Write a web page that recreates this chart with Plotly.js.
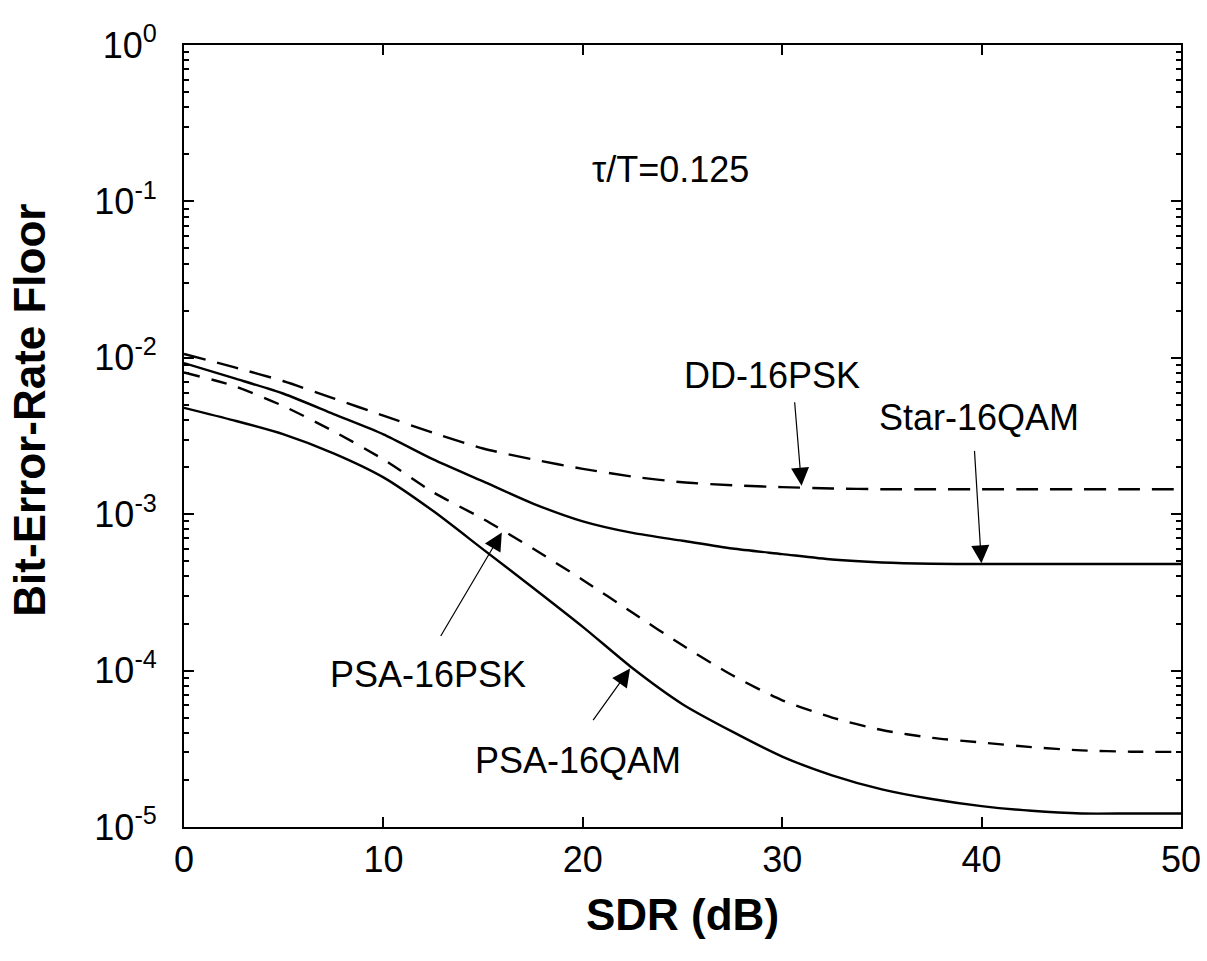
<!DOCTYPE html>
<html>
<head>
<meta charset="utf-8">
<script src="https://cdn.plot.ly/plotly-3.0.1.min.js"></script>
<style>html,body{margin:0;padding:0;background:#fff;}#chart{width:1207px;height:961px;}</style>
</head>
<body>
<div id="chart"></div>
<script>
// SDR (dB) sample points
const sdr = [0, 2.5, 5, 7.5, 10, 12.5, 15, 17.5, 20, 22.5, 25, 27.5, 30, 32.5, 35, 37.5, 40, 42.5, 45, 47.5, 50];

// Bit-error-rate floor values
const ddPsk = [1.057e-2, 8.71e-3, 7.08e-3, 5.50e-3, 4.27e-3, 3.31e-3, 2.63e-3, 2.24e-3, 1.95e-3, 1.74e-3, 1.60e-3, 1.53e-3, 1.49e-3, 1.46e-3, 1.445e-3, 1.445e-3, 1.445e-3, 1.445e-3, 1.445e-3, 1.445e-3, 1.445e-3];
const starQam = [9.25e-3, 7.41e-3, 5.89e-3, 4.37e-3, 3.24e-3, 2.24e-3, 1.62e-3, 1.17e-3, 9.0e-4, 7.59e-4, 6.76e-4, 6.03e-4, 5.56e-4, 5.13e-4, 4.91e-4, 4.82e-4, 4.80e-4, 4.80e-4, 4.80e-4, 4.80e-4, 4.80e-4];
const psaPsk = [8.05e-3, 6.61e-3, 4.90e-3, 3.39e-3, 2.24e-3, 1.38e-3, 9.33e-4, 6.03e-4, 3.80e-4, 2.34e-4, 1.45e-4, 9.33e-5, 6.46e-5, 5.01e-5, 4.17e-5, 3.72e-5, 3.47e-5, 3.24e-5, 3.09e-5, 3.03e-5, 3.02e-5];
const psaQam = [4.79e-3, 3.98e-3, 3.24e-3, 2.45e-3, 1.72e-3, 1.047e-3, 5.96e-4, 3.39e-4, 1.905e-4, 1.035e-4, 6.10e-5, 4.07e-5, 2.82e-5, 2.14e-5, 1.74e-5, 1.51e-5, 1.36e-5, 1.27e-5, 1.22e-5, 1.22e-5, 1.22e-5];

// Tick labels
const xTicks = [0, 10, 20, 30, 40, 50];
const yTickVals = [1e-5, 1e-4, 1e-3, 1e-2, 1e-1, 1];
const yTickText = ['10<sup>-5</sup>', '10<sup>-4</sup>', '10<sup>-3</sup>', '10<sup>-2</sup>', '10<sup>-1</sup>', '10<sup>0</sup>'];

// Curve labels and arrows
const labelText = ['DD-16PSK', 'Star-16QAM', 'PSA-16PSK', 'PSA-16QAM'];
const labelX = [29.5, 39.85, 12.25, 19.75];
const labelY = [7.7e-3, 4.15e-3, 9.4e-5, 2.65e-5];
const arrowX = [30.97, 39.99, 15.94, 22.37];
const arrowY = [1.52e-3, 4.85e-4, 7.64e-4, 1.03e-4];
const arrowAx = [-7, -7, -62, -38];
const arrowAy = [-85, -114, 105, 53];

const paramText = '\u03c4/T=0.125';
const paramX = 24.42, paramY = 0.159;

const xTitle = 'SDR (dB)';
const yTitle = 'Bit-Error-Rate Floor';

const FONT = 'Liberation Sans, Arial, Helvetica, sans-serif';

const minorVals = [];
for (let d = -5; d < 0; d++) for (let m = 2; m <= 9; m++) minorVals.push(m * Math.pow(10, d));

const lineStyle = (dash) => ({color: '#000', width: 2.4, dash: dash, shape: 'spline', smoothing: 0.7});
const traces = [
  {x: sdr, y: ddPsk, mode: 'lines', line: lineStyle('22px,12px'), name: 'DD-16PSK'},
  {x: sdr, y: starQam, mode: 'lines', line: lineStyle('solid'), name: 'Star-16QAM'},
  {x: sdr, y: psaPsk, mode: 'lines', line: lineStyle('16px,12px'), name: 'PSA-16PSK'},
  {x: sdr, y: psaQam, mode: 'lines', line: lineStyle('solid'), name: 'PSA-16QAM'}
];

const annotations = [];
annotations.push({x: paramX, y: Math.log10(paramY), xref: 'x', yref: 'y', text: paramText, showarrow: false,
  font: {family: FONT, size: 36, color: '#000'}});
for (let i = 0; i < labelText.length; i++) {
  annotations.push({x: labelX[i], y: Math.log10(labelY[i]), xref: 'x', yref: 'y', text: labelText[i], showarrow: false,
    font: {family: FONT, size: 36, color: '#000'}});
  annotations.push({x: arrowX[i], y: Math.log10(arrowY[i]), xref: 'x', yref: 'y', text: '', showarrow: true,
    ax: arrowAx[i], ay: arrowAy[i], arrowhead: 2, arrowsize: 3, arrowwidth: 1.2, arrowcolor: '#000', standoff: 0, startstandoff: 0});
}
// y-axis title drawn as rotated text
annotations.push({x: -0.155, y: 0.533, xref: 'paper', yref: 'paper', text: '<b>' + yTitle + '</b>', textangle: -90,
  showarrow: false, xanchor: 'center', yanchor: 'middle', font: {family: FONT, size: 44, color: '#000'}});

const layout = {
  width: 1207, height: 961,
  margin: {l: 184, r: 26, t: 45, b: 134},
  paper_bgcolor: '#fff', plot_bgcolor: '#fff',
  showlegend: false,
  font: {family: FONT, color: '#000'},
  xaxis: {
    range: [0, 50], tickvals: xTicks, ticktext: xTicks.map(String),
    ticks: 'inside', ticklen: 10, tickwidth: 2, tickcolor: '#000',
    showline: true, linewidth: 2, linecolor: '#000', mirror: 'allticks',
    showgrid: false, zeroline: false,
    tickfont: {family: FONT, size: 36, color: '#000'},
    title: {text: xTitle, font: {family: FONT, size: 44, color: '#000', weight: 'bold'}, standoff: 20}
  },
  yaxis: {
    type: 'log', range: [-5, 0], tickmode: 'array', tickvals: yTickVals, ticktext: yTickText,
    ticks: 'inside', ticklen: 10, tickwidth: 2, tickcolor: '#000',
    ticklabelstandoff: 18,
    minor: {tickmode: 'array', tickvals: minorVals, ticks: 'inside', ticklen: 5, tickwidth: 2, tickcolor: '#000', showgrid: false},
    showline: true, linewidth: 2, linecolor: '#000', mirror: 'allticks',
    showgrid: false, zeroline: false,
    tickfont: {family: FONT, size: 36, color: '#000'}
  },
  annotations: annotations
};

Plotly.newPlot('chart', traces, layout, {staticPlot: true, displayModeBar: false});
</script>
</body>
</html>
